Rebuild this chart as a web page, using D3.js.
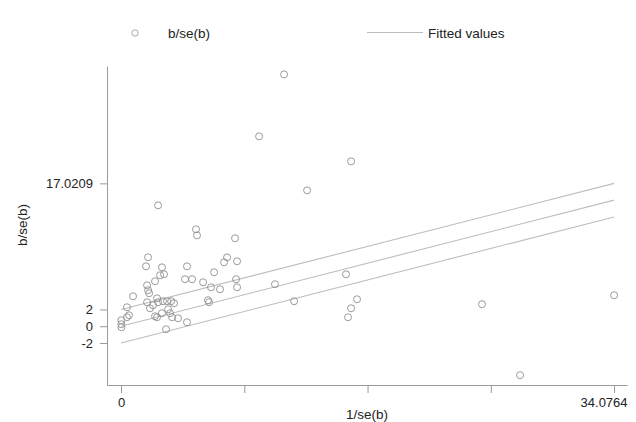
<!DOCTYPE html>
<html>
<head>
<meta charset="utf-8">
<script src="https://cdn.jsdelivr.net/npm/d3@7"></script>
<style>
  body { margin: 0; background: #fff; }
  svg text { font-family: "Liberation Sans", Arial, sans-serif; fill: #222; }
</style>
</head>
<body>
<div id="chart"></div>
<script>
// precision (1/se) and standardised effect (b/se) per study
const invSe = [11.27, 9.54, 15.90, 12.86, 2.56, 5.18, 5.25, 7.88, 7.33, 7.12,
  8.02, 1.87, 1.73, 2.83, 4.56, 2.97, 2.70, 6.43, 2.35, 4.42,
  4.91, 5.67, 7.95, 8.02, 6.22, 6.84, 1.80, 1.87, 1.94, 0.83,
  10.64, 2.49, 2.56, 2.90, 3.18, 3.46, 3.66, 1.80, 2.21, 2.00,
  6.01, 6.08, 0.41, 0.55, 0.41, 0.02, 0.02, 0.03, 2.35, 2.49,
  2.83, 3.25, 3.53, 3.94, 4.56, 3.11, 11.96, 15.55, 16.31, 15.90,
  15.69, 24.95, 34.08, 27.58, 3.39];
const bSe = [30.0, 22.62, 19.64, 16.19, 14.40, 11.55, 10.83, 10.48, 8.21, 7.62,
  7.74, 8.21, 7.14, 7.02, 7.14, 6.19, 6.07, 6.43, 5.36, 5.60,
  5.60, 5.24, 5.60, 4.64, 4.64, 4.40, 4.88, 4.29, 3.93, 3.57,
  5.00, 3.33, 2.86, 2.98, 2.98, 2.98, 2.74, 2.86, 2.50, 2.14,
  3.10, 2.86, 2.26, 1.31, 1.07, 0.71, 0.24, -0.12, 1.19, 1.07,
  1.55, 2.02, 1.07, 0.95, 0.48, -0.36, 2.98, 6.19, 3.21, 2.14,
  1.07, 2.62, 3.69, -5.83, 1.55];

const xMax = 34.0764;
const yTop = 17.0209;
const slope = (yTop - 2) / xMax;
const offsets = [2, 0, -2];
const xTicks = [0, xMax / 4, xMax / 2, xMax * 3 / 4, xMax];
const xLabels = ['0', '', '', '', '34.0764'];
const yTicks = [-2, 0, 2, yTop];
const yLabels = ['-2', '0', '2', '17.0209'];

const W = 636, H = 422;
const svg = d3.select('#chart').append('svg')
    .attr('width', W).attr('height', H);

const x = d3.scaleLinear().domain([-0.97, 34.97]).range([107, 627]);
const y = d3.scaleLinear().domain([-7.0, 31.0]).range([385, 66]);

const axisCol = '#9a9a9a';

// x axis
const xAxis = svg.append('g')
    .attr('transform', 'translate(0,385)')
    .call(d3.axisBottom(x).tickValues(xTicks).tickSize(8).tickPadding(5)
        .tickFormat((d, i) => xLabels[i]).tickSizeOuter(0));
xAxis.select('.domain').attr('stroke', axisCol);
xAxis.selectAll('.tick line').attr('stroke', axisCol);
xAxis.selectAll('.tick text').style('font-size', '13px').attr('fill', '#222');
xAxis.selectAll('.tick text').filter((d, i) => i === 4)
    .attr('text-anchor', 'end').attr('dx', 13);

// y axis
const yAxis = svg.append('g')
    .attr('transform', 'translate(107,0)')
    .call(d3.axisLeft(y).tickValues(yTicks).tickSize(7).tickPadding(7)
        .tickFormat((d, i) => yLabels[i]).tickSizeOuter(0));
yAxis.select('.domain').attr('stroke', axisCol);
yAxis.selectAll('.tick line').attr('stroke', axisCol);
yAxis.selectAll('.tick text').style('font-size', '13px').attr('fill', '#222');

// axis titles
svg.append('text')
    .attr('x', 367).attr('y', 419)
    .attr('text-anchor', 'middle')
    .style('font-size', '13.5px')
    .text('1/se(b)');

svg.append('text')
    .attr('transform', 'translate(27,225) rotate(-90)')
    .attr('text-anchor', 'middle')
    .style('font-size', '13.5px')
    .text('b/se(b)');

// fitted line and +/-2 bands
const line = d3.line().x(d => x(d[0])).y(d => y(d[1]));
svg.selectAll('.fit')
    .data(offsets)
    .enter()
    .append('path')
    .attr('class', 'fit')
    .attr('d', o => line([[0, o], [xMax, slope * xMax + o]]))
    .attr('fill', 'none')
    .attr('stroke', '#bdbdbd')
    .attr('stroke-width', 1.1);

// points
svg.selectAll('circle.pt')
    .data(invSe.map((v, i) => [v, bSe[i]]))
    .enter()
    .append('circle')
    .attr('class', 'pt')
    .attr('cx', d => x(d[0]))
    .attr('cy', d => y(d[1]))
    .attr('r', 3.5)
    .attr('fill', 'none')
    .attr('stroke', '#8f8f8f')
    .attr('stroke-width', 0.9);

// legend
svg.append('circle')
    .attr('cx', 135).attr('cy', 33).attr('r', 3.2)
    .attr('fill', 'none').attr('stroke', '#a0a0a0').attr('stroke-width', 0.9);
svg.append('text')
    .attr('x', 168).attr('y', 37.5)
    .style('font-size', '13.5px')
    .text('b/se(b)');
svg.append('line')
    .attr('x1', 367).attr('x2', 423).attr('y1', 32.5).attr('y2', 32.5)
    .attr('stroke', '#bdbdbd').attr('stroke-width', 1.1);
svg.append('text')
    .attr('x', 428).attr('y', 37.5)
    .style('font-size', '13.5px')
    .text('Fitted values');
</script>
</body>
</html>
